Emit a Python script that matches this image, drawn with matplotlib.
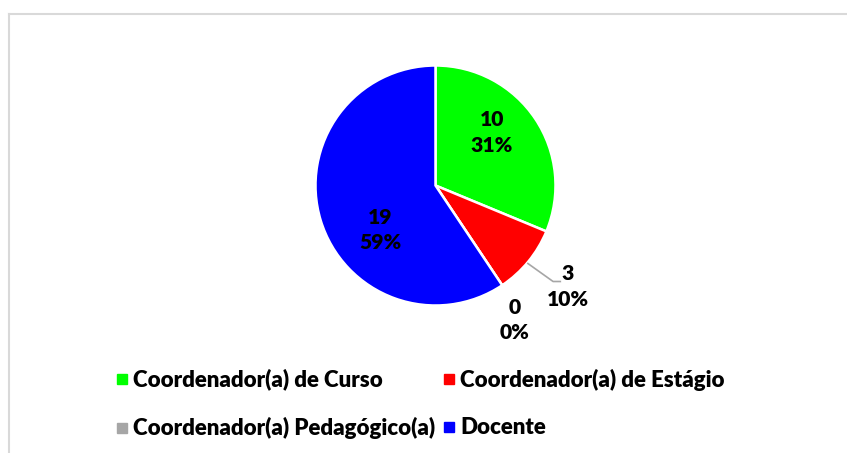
import matplotlib
matplotlib.use("Agg")
import matplotlib.pyplot as plt
from matplotlib.lines import Line2D
import numpy as np

categories = ["Coordenador(a) de Curso", "Coordenador(a) de Estágio",
              "Coordenador(a) Pedagógico(a)", "Docente"]
values = [10, 3, 0, 19]
percent_labels = ["31%", "10%", "0%", "59%"]
colors = ["#00FF00", "#FF0000", "#A6A6A6", "#0000FF"]

W, H = 847, 453
fig = plt.figure(figsize=(W / 100, H / 100), dpi=100)
fig.patch.set_facecolor("white")

FONT = "Lato"
FS = 15.2
WEIGHT = "heavy"

# chart border (top and left only visible)
fig.add_artist(Line2D([8.5 / W, 8.5 / W], [0, 1 - 13.5 / H], color="#D9D9D9", lw=1.5,
                      transform=fig.transFigure))
fig.add_artist(Line2D([8.5 / W, 1], [1 - 13.5 / H, 1 - 13.5 / H], color="#D9D9D9", lw=1.5,
                      transform=fig.transFigure))

cx, cy, R = 435.5, 185.5, 120
ax = fig.add_axes([(cx - R) / W, (H - cy - R) / H, 2 * R / W, 2 * R / H])
wedges, _ = ax.pie(values, colors=colors, startangle=90, counterclock=False,
                   wedgeprops=dict(edgecolor="white", linewidth=1.8))
for w in wedges:
    w.set_clip_on(False)
ax.set_xlim(-1, 1)
ax.set_ylim(-1, 1)
ax.set_aspect("equal")
ax.axis("off")

label_pos = [(0.47, 0.44), (1.10, -0.84), (0.66, -1.12), (-0.46, -0.37)]
for (x, y), v, p in zip(label_pos, values, percent_labels):
    ax.text(x, y, f"{v}\n{p}", ha="center", va="center", fontsize=FS,
            fontweight=WEIGHT, family=FONT, linespacing=1.4, color="black")

# leader line for small slice
ax.plot([0.77, 0.98, 1.04], [-0.65, -0.80, -0.80], color="#A6A6A6", lw=1.2,
        clip_on=False)

handles = [Line2D([], [], marker="s", linestyle="none", markersize=6.5,
                  markerfacecolor=c, markeredgecolor=c) for c in colors]
order = [0, 2, 1, 3]
leg = fig.legend([handles[i] for i in order], [categories[i] for i in order],
                 ncol=2, loc="center", bbox_to_anchor=(421 / W, 1 - 404 / H),
                 frameon=False, prop=dict(family=FONT, weight=WEIGHT, size=16),
                 handlelength=0.4, handletextpad=0.3, columnspacing=0.45,
                 labelspacing=1.2)

fig.savefig("out.png", dpi=100)
